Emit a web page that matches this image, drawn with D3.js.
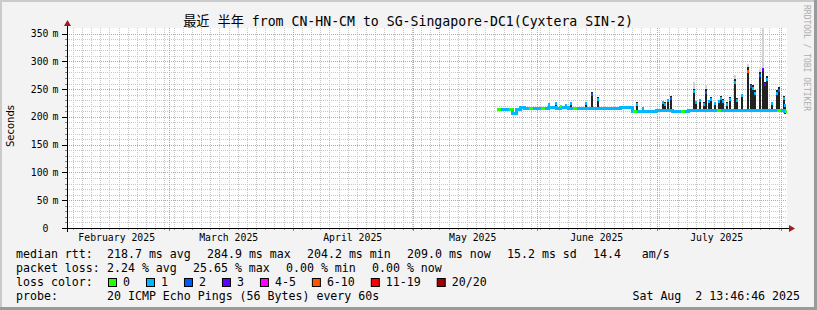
<!DOCTYPE html>
<html>
<head>
<meta charset="utf-8">
<title>SmokePing - CN-HN-CM to SG-Singapore-DC1</title>
<style>
  body { margin: 0; background: #fff; }
  text { font-family: "DejaVu Sans Mono", "Noto Sans CJK SC", monospace; fill: #000; white-space: pre; }
</style>
</head>
<body>
<script src="https://d3js.org/d3.v7.min.js"></script>
<script>
// ---- data ----
const title = "最近 半年 from CN-HN-CM to SG-Singapore-DC1(Cyxtera SIN-2)";
const endTime = "2025-08-02T13:46:46";
const spanDays = 180;
const firstDay = "2025-05-22";
const yTicks = [0, 50, 100, 150, 200, 250, 300, 350];

// daily median rtt (ms), one per day starting at firstDay
const medianMs = [
  214, 214, 214, 214, 206, 214, 217, 216, 216, 216,
  216, 216, 216, 217, 217, 216, 217, 217, 216, 216,
  216, 216, 216, 216, 216, 216, 216, 216, 216, 216,
  216, 217, 217, 217, 209, 210, 210, 209, 210, 210,
  211, 211, 211, 211, 210, 210, 210, 210, 211, 212,
  212, 212, 211, 211, 212, 212, 211, 212, 212, 212,
  211, 211, 212, 212, 212, 212, 211, 212, 211, 211,
  212, 211, 209
];
// daily loss class (index into lossLabels)
const lossIdx = [
  0, 1, 1, 0, 1, 1, 1, 1, 0, 1,
  1, 0, 1, 1, 1, 1, 1, 1, 1, 0,
  1, 1, 1, 1, 1, 1, 1, 1, 1, 1,
  1, 1, 1, 1, 0, 1, 1, 1, 1, 1,
  1, 1, 1, 1, 1, 1, 0, 1, 1, 1,
  1, 1, 1, 1, 1, 0, 1, 1, 1, 1,
  1, 1, 1, 1, 1, 1, 1, 1, 1, 1,
  0, 1, 0
];

// latency spikes (smoke top, median at the spike, loss class, light smoke top)
const spikeTime = [
  "2025-06-04T00:00", "2025-06-05T18:00", "2025-06-07T00:00", "2025-06-08T06:00",
  "2025-06-09T12:00", "2025-06-13T06:00", "2025-06-14T18:00", "2025-06-16T06:00",
  "2025-06-26T00:00", "2025-06-27T12:00", "2025-07-02T12:00", "2025-07-03T00:00",
  "2025-07-03T18:00", "2025-07-04T12:00", "2025-07-10T06:00", "2025-07-10T18:00",
  "2025-07-11T18:00", "2025-07-12T18:00", "2025-07-13T06:00", "2025-07-14T00:00",
  "2025-07-14T12:00", "2025-07-15T12:00", "2025-07-16T12:00", "2025-07-17T00:00",
  "2025-07-17T12:00", "2025-07-18T12:00", "2025-07-19T06:00", "2025-07-20T12:00",
  "2025-07-21T00:00", "2025-07-22T06:00", "2025-07-23T18:00", "2025-07-24T12:00",
  "2025-07-25T00:00", "2025-07-25T12:00", "2025-07-26T18:00", "2025-07-27T12:00",
  "2025-07-28T00:00", "2025-07-28T12:00", "2025-07-29T18:00", "2025-07-31T00:00",
  "2025-07-31T12:00", "2025-08-01T18:00", "2025-08-02T00:00"
];
const spikeTop = [
  224, 227, 221, 223, 226, 227, 244, 235, 226, 217, 229, 226,
  232, 238, 251, 229, 232, 226, 250, 230, 236, 227, 230, 238,
  232, 226, 235, 268, 234, 242, 289, 260, 258, 248, 280, 286,
  263, 274, 227, 248, 254, 238, 224
];
const spikeMed = [
  222, 224, 219, 221, 224, 225, 240, 232, 223, 215, 226, 223,
  229, 234, 246, 226, 229, 223, 244, 227, 232, 224, 227, 234,
  228, 223, 231, 262, 230, 238, 282, 255, 252, 243, 275, 284.9,
  258, 268, 224, 242, 248, 234, 221
];
const spikeLoss = [
  1, 1, 0, 1, 1, 1, 2, 1, 1, 1, 1, 1,
  1, 2, 1, 1, 1, 1, 2, 1, 1, 1, 1, 1,
  1, 1, 1, 1, 1, 1, 5, 2, 1, 1, 2, 3,
  3, 1, 1, 1, 2, 1, 1
];
const spikeHaze = [
  0, 0, 0, 0, 0, 0, 0, 0, 0, 0, 0, 0,
  0, 0, 262, 0, 0, 0, 258, 0, 0, 0, 0, 0,
  0, 0, 0, 275, 0, 0, 296, 0, 0, 0, 286, 360,
  0, 0, 0, 0, 0, 0, 0
];

const lossLabels = ["0", "1", "2", "3", "4-5", "6-10", "11-19", "20/20"];
const lossColors = ["#26ff00", "#00b8ff", "#0059ff", "#5e00ff", "#ff00ff", "#ff5500", "#ff0000", "#a00000"];

const statRtt = ["218.7 ms avg", "284.9 ms max", "204.2 ms min", "209.0 ms now", "15.2 ms sd", "14.4   am/s"];
const statLoss = ["2.24 % avg", "25.65 % max", "0.00 % min", "0.00 % now"];
const probeText = "20 ICMP Echo Pings (56 Bytes) every 60s";
const stampText = "Sat Aug  2 13:46:46 2025";

// ---- setup ----
const W = 817, H = 310;
const plot = { left: 67, right: 787, top: 28, bottom: 228 };

const parseT = d3.utcParse("%Y-%m-%dT%H:%M:%S");
const parseM = d3.utcParse("%Y-%m-%dT%H:%M");
const parseD = d3.utcParse("%Y-%m-%d");

const tEnd = parseT(endTime);
const tStart = d3.utcDay.offset(tEnd, -spanDays);
const day0 = parseD(firstDay);

const x = d3.scaleUtc().domain([tStart, tEnd]).range([plot.left, plot.right]);
const y = d3.scaleLinear().domain([0, 360]).range([plot.bottom, plot.top]);

const svg = d3.select("body").append("svg")
  .attr("width", W).attr("height", H);

// background and shading frame
svg.append("rect").attr("width", W).attr("height", H).attr("fill", "#f3f3f3");
svg.append("rect").attr("x", 0).attr("y", 0).attr("width", W).attr("height", 2).attr("fill", "#cbcbcb");
svg.append("rect").attr("x", 0).attr("y", 0).attr("width", 2).attr("height", H).attr("fill", "#cbcbcb");
svg.append("rect").attr("x", W - 3).attr("y", 0).attr("width", 3).attr("height", H).attr("fill", "#9a9a9a");
svg.append("rect").attr("x", 0).attr("y", H - 3).attr("width", W).attr("height", 3).attr("fill", "#9a9a9a");

// canvas
svg.append("rect")
  .attr("x", plot.left).attr("y", plot.top)
  .attr("width", plot.right - plot.left).attr("height", plot.bottom - plot.top)
  .attr("fill", "#fff");

// grid
const grid = svg.append("g").attr("shape-rendering", "crispEdges");
const minorY = d3.range(10, 360, 10).filter(v => v % 50 !== 0);
grid.selectAll(".gy").data(minorY).enter().append("line")
  .attr("x1", plot.left).attr("x2", plot.right)
  .attr("y1", d => Math.round(y(d)) + 0.5).attr("y2", d => Math.round(y(d)) + 0.5)
  .attr("stroke", "#c8c8c8").attr("stroke-dasharray", "1,1");

const minorStepHours = 55;
const minorX = d3.range(+tStart + 34 * 36e5, +tEnd, minorStepHours * 36e5).map(v => new Date(v));
grid.selectAll(".gx").data(minorX).enter().append("line")
  .attr("x1", d => Math.round(x(d)) + 0.5).attr("x2", d => Math.round(x(d)) + 0.5)
  .attr("y1", plot.top).attr("y2", plot.bottom)
  .attr("stroke", "#c8c8c8").attr("stroke-dasharray", "1,1");

const majorY = yTicks.filter(v => v > 0);
grid.selectAll(".my").data(majorY).enter().append("line")
  .attr("x1", plot.left).attr("x2", plot.right)
  .attr("y1", d => Math.round(y(d)) + 0.5).attr("y2", d => Math.round(y(d)) + 0.5)
  .attr("stroke", "#f09090").attr("stroke-dasharray", "1,1");

const months = d3.utcMonth.range(tStart, tEnd);
grid.selectAll(".mx").data(months).enter().append("line")
  .attr("x1", d => Math.round(x(d)) + 0.5).attr("x2", d => Math.round(x(d)) + 0.5)
  .attr("y1", plot.top).attr("y2", plot.bottom)
  .attr("stroke", "#f09090").attr("stroke-dasharray", "1,1");

// ---- data marks ----
const marks = svg.append("g").attr("shape-rendering", "crispEdges");
const spikes = spikeTime.map((s, i) => ({
  t: parseM(s), top: spikeTop[i], med: spikeMed[i], loss: spikeLoss[i], haze: spikeHaze[i],
  base: medianMs[d3.utcDay.count(day0, parseM(s))] - 3
}));

// light smoke
marks.selectAll(".haze").data(spikes.filter(d => d.haze > 0)).enter().append("rect")
  .attr("x", d => Math.round(x(d.t)) - 1).attr("width", 2)
  .attr("y", d => y(d.haze)).attr("height", d => y(d.top) - y(d.haze))
  .attr("fill", "#d2d2d2");

// dark smoke
marks.selectAll(".smoke").data(spikes).enter().append("rect")
  .attr("x", d => Math.round(x(d.t)) - 1).attr("width", 2)
  .attr("y", d => y(d.top)).attr("height", d => y(d.base) - y(d.top))
  .attr("fill", "#222");

// median line
const days = medianMs.map((v, i) => ({ t: d3.utcDay.offset(day0, i), v: v, loss: lossIdx[i] }));
const lineData = days.concat([{ t: tEnd, v: medianMs[medianMs.length - 1] }]);
marks.append("path")
  .datum(lineData)
  .attr("d", d3.line().x(d => x(d.t)).y(d => y(d.v)).curve(d3.curveStepAfter))
  .attr("fill", "none").attr("stroke", lossColors[1]).attr("stroke-width", 3);

marks.selectAll(".seg").data(days.filter(d => d.loss !== 1)).enter().append("rect")
  .attr("x", d => x(d.t))
  .attr("width", d => Math.min(x(d3.utcDay.offset(d.t, 1)), plot.right) - x(d.t))
  .attr("y", d => y(d.v) - 1.5).attr("height", 3)
  .attr("fill", d => lossColors[d.loss]);

// median at spikes
marks.selectAll(".tip").data(spikes).enter().append("rect")
  .attr("x", d => Math.round(x(d.t)) - 1).attr("width", 2)
  .attr("y", d => y(d.med) - 1.5).attr("height", 3)
  .attr("fill", d => lossColors[d.loss]);

// ---- axes ----
const axis = svg.append("g").attr("shape-rendering", "crispEdges");
const arrowColor = "#9a1c1c";

// y ticks
axis.selectAll(".ymt").data(d3.range(0, 360, 10)).enter().append("line")
  .attr("x1", d => d % 50 === 0 ? plot.left - 5 : plot.left - 2).attr("x2", plot.left)
  .attr("y1", d => Math.round(y(d)) + 0.5).attr("y2", d => Math.round(y(d)) + 0.5)
  .attr("stroke", d => d % 50 === 0 ? "#000" : "#888");

// x ticks
axis.selectAll(".xmt").data(minorX).enter().append("line")
  .attr("x1", d => Math.round(x(d)) + 0.5).attr("x2", d => Math.round(x(d)) + 0.5)
  .attr("y1", plot.bottom).attr("y2", plot.bottom + 2)
  .attr("stroke", "#999");
axis.selectAll(".xMt").data(months).enter().append("line")
  .attr("x1", d => Math.round(x(d)) + 0.5).attr("x2", d => Math.round(x(d)) + 0.5)
  .attr("y1", plot.bottom).attr("y2", plot.bottom + 3)
  .attr("stroke", "#e06060");

// axis lines
axis.append("line")
  .attr("x1", plot.left - 5).attr("x2", plot.right + 3)
  .attr("y1", plot.bottom + 0.5).attr("y2", plot.bottom + 0.5)
  .attr("stroke", "#000");
axis.append("line")
  .attr("x1", plot.left + 0.5).attr("x2", plot.left + 0.5)
  .attr("y1", plot.bottom + 4).attr("y2", plot.top - 3)
  .attr("stroke", "#000");
svg.append("path")
  .attr("d", `M${plot.left - 3},${plot.top - 2}L${plot.left + 4},${plot.top - 2}L${plot.left + 0.5},${plot.top - 8}Z`)
  .attr("fill", arrowColor);
svg.append("path")
  .attr("d", `M${plot.right + 2},${plot.bottom - 3}L${plot.right + 2},${plot.bottom + 4}L${plot.right + 8},${plot.bottom + 0.5}Z`)
  .attr("fill", arrowColor);

// y labels
const yLab = svg.append("g").style("font-size", "9.8px");
yLab.selectAll(".yn").data(yTicks).enter().append("text")
  .attr("x", 48.5).attr("y", d => y(d) + 3.5)
  .attr("text-anchor", "end")
  .text(d => d);
yLab.selectAll(".yu").data(yTicks.filter(v => v > 0)).enter().append("text")
  .attr("x", 52.5).attr("y", d => y(d) + 3.5)
  .text("m");

// month labels, centered half a month after the month start
const fmtMonth = d3.utcFormat("%B %Y");
const labelMonths = d3.utcMonth.range(d3.utcMonth.floor(tStart), tEnd)
  .filter(m => d3.utcDay.offset(m, 15) < tEnd);
svg.append("g").style("font-size", "9.8px")
  .selectAll("text").data(labelMonths).enter().append("text")
  .attr("x", d => x(d3.utcDay.offset(d, 15)))
  .attr("y", 241)
  .attr("text-anchor", "middle")
  .text(d => fmtMonth(d));

// title
svg.append("text")
  .attr("x", 408).attr("y", 26)
  .attr("text-anchor", "middle")
  .style("font-size", "13.2px")
  .text(title);

// y axis title
svg.append("text")
  .attr("transform", "translate(13.5,126) rotate(-90)")
  .attr("text-anchor", "middle")
  .style("font-family", "'DejaVu Sans', sans-serif")
  .style("font-size", "10px")
  .text("Seconds");

// watermark
svg.append("text")
  .attr("transform", "translate(804,5) rotate(90)")
  .style("font-size", "8px")
  .style("fill", "#adadad")
  .text("RRDTOOL / TOBI OETIKER");

// ---- legend ----
const lg = svg.append("g").style("font-size", "11.6px");
const col = [107, 207, 307, 407, 507, 593];
lg.append("text").attr("x", 16).attr("y", 258).text("median rtt:");
statRtt.forEach((s, i) => lg.append("text").attr("x", col[i]).attr("y", 258).text(s));

const lossCol = [107, 193, 286, 372];
lg.append("text").attr("x", 16).attr("y", 272).text("packet loss:");
statLoss.forEach((s, i) => lg.append("text").attr("x", lossCol[i]).attr("y", 272).text(s));

lg.append("text").attr("x", 16).attr("y", 286).text("loss color:");
let lx = 108;
lossLabels.forEach((lab, i) => {
  lg.append("rect")
    .attr("x", lx + 0.5).attr("y", 278.5).attr("width", 8).attr("height", 8)
    .attr("fill", lossColors[i]).attr("stroke", "#000").attr("stroke-width", 1);
  const t = lg.append("text").attr("x", lx + 15).attr("y", 286).text(lab);
  lx = lx + 15 + t.node().getComputedTextLength() + 16;
});

lg.append("text").attr("x", 16).attr("y", 300).text("probe:");
lg.append("text").attr("x", 107).attr("y", 300).text(probeText);
lg.append("text").attr("x", 800).attr("y", 300).attr("text-anchor", "end").text(stampText);
</script>
</body>
</html>
